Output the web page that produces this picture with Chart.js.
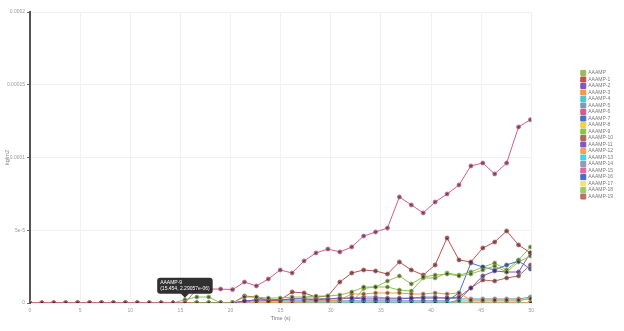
<!DOCTYPE html>
<html>
<head>
<meta charset="utf-8">
<script src="https://cdn.jsdelivr.net/npm/chart.js@4.4.1/dist/chart.umd.min.js"></script>
<style>
  html, body { margin: 0; padding: 0; background: #fff; }
</style>
</head>
<body>
<canvas id="massChart" width="624" height="331"></canvas>
<script>
// Tiempos de muestreo (s)
const timeS = [0, 1.188, 2.377, 3.566, 4.754, 5.943, 7.131, 8.32, 9.509, 10.697, 11.886, 13.074, 14.263, 15.454,
  16.64, 17.829, 19.017, 20.206, 21.394, 22.583, 23.771, 24.96, 26.149, 27.337, 28.526, 29.714, 30.903, 32.091,
  33.28, 34.469, 35.657, 36.846, 38.034, 39.223, 40.411, 41.6, 42.789, 43.977, 45.166, 46.354, 47.543, 48.731, 49.92];

const seriesNames = ['AAAMP', 'AAAMP-1', 'AAAMP-2', 'AAAMP-3', 'AAAMP-4', 'AAAMP-5', 'AAAMP-6', 'AAAMP-7',
  'AAAMP-8', 'AAAMP-9', 'AAAMP-10', 'AAAMP-11', 'AAAMP-12', 'AAAMP-13', 'AAAMP-14', 'AAAMP-15', 'AAAMP-16',
  'AAAMP-17', 'AAAMP-18', 'AAAMP-19'];

// Valores en kg/m2
const amp0 = [0, 0, 0, 0, 0, 0, 0, 0, 0, 0, 0, 0, 0, 0, 0, 0, 0, 0,
  4.1e-6, 4.1e-6, 3.4e-6, 3.4e-6, 4.1e-6, 4.1e-6, 4.8e-6, 4.8e-6, 5.5e-6, 7.6e-6, 1.1e-5, 1.1e-5, 1.51e-5,
  1.86e-5, 1.31e-5, 1.79e-5, 1.92e-5, 1.99e-5, 1.86e-5, 1.99e-5, 2.27e-5, 2.54e-5, 2.13e-5, 2.82e-5, 3.23e-5];
const amp1 = [0, 0, 0, 0, 0, 0, 0, 0, 0, 0, 0, 0, 0, 0, 0, 0, 0, 0,
  4.8e-6, 4.1e-6, 1.4e-6, 2.1e-6, 7.6e-6, 6.9e-6, 4.1e-6, 4.8e-6, 1.44e-5, 2.06e-5, 2.27e-5, 2.2e-5, 1.99e-5,
  2.82e-5, 2.27e-5, 1.92e-5, 2.61e-5, 4.47e-5, 2.96e-5, 2.82e-5, 3.78e-5, 4.19e-5, 4.95e-5, 3.99e-5, 3.44e-5];
const amp2 = [0, 0, 0, 0, 0, 0, 0, 0, 0, 0, 0, 0, 0, 0, 0, 0, 0, 0,
  1.4e-6, 2.1e-6, 2.1e-6, 2.1e-6, 2.8e-6, 2.8e-6, 2.1e-6, 2.8e-6, 3.4e-6, 3.4e-6, 2.8e-6, 2.8e-6, 2.8e-6,
  2.8e-6, 3.4e-6, 3.4e-6, 3.4e-6, 3.4e-6, 4.1e-6, 1.03e-5, 1.86e-5, 2.2e-5, 2.13e-5, 2.13e-5, 3.44e-5];
const amp3 = [0, 0, 0, 0, 0, 0, 0, 0, 0, 0, 0, 0, 0, 0, 0, 0, 0, 0, 0, 0, 0, 0, 0,
  1.4e-6, 1.4e-6, 1.4e-6, 2.1e-6, 6.2e-6, 6.2e-6, 6.9e-6, 6.9e-6, 6.9e-6, 6.2e-6, 6.2e-6, 6.9e-6, 6.2e-6,
  6.9e-6, 2.1e-6, 2.1e-6, 2.1e-6, 2.1e-6, 2.1e-6, 2.8e-6];
const amp4 = [0, 0, 0, 0, 0, 0, 0, 0, 0, 0, 0, 0, 0, 0, 0, 0, 0, 0, 0, 0, 0, 0, 0, 0, 0, 0, 0, 0, 0, 0, 0, 0,
  0, 0, 0, 0, 1.4e-6, 1.4e-6, 1.4e-6, 1.4e-6, 1.4e-6, 1.4e-6, 3.4e-6];
const amp5 = [0, 0, 0, 0, 0, 0, 0, 0, 0, 0, 0, 0, 0, 0, 0, 0, 0, 0, 0,
  2.8e-6, 2.8e-6, 2.1e-6, 2.8e-6, 3.4e-6, 3.4e-6, 2.8e-6, 2.8e-6, 3.4e-6, 4.1e-6, 4.1e-6, 3.4e-6, 3.4e-6,
  3.4e-6, 4.1e-6, 4.1e-6, 3.4e-6, 2.8e-6, 2.8e-6, 2.8e-6, 2.8e-6, 2.8e-6, 2.8e-6, 4.1e-6];
const amp6 = [0, 0, 0, 0, 0, 0, 0, 0, 0, 0, 0, 0, 0, 0,
  9.6e-6, 9.6e-6, 9.6e-6, 9.2e-6, 1.44e-5, 1.17e-5, 1.65e-5, 2.27e-5, 2.06e-5, 2.89e-5, 3.44e-5, 3.71e-5,
  3.51e-5, 3.85e-5, 4.6e-5, 4.88e-5, 5.15e-5, 7.29e-5, 6.74e-5, 6.19e-5, 6.94e-5, 7.49e-5, 8.11e-5, 9.42e-5,
  9.62e-5, 8.87e-5, 9.62e-5, 1.21e-4, 1.26e-4];
const amp7 = [0, 0, 0, 0, 0, 0, 0, 0, 0, 0, 0, 0, 0, 0, 0, 0, 0, 0,
  1.4e-6, 1.4e-6, 1.4e-6, 1.4e-6, 1.4e-6, 1.4e-6, 1.4e-6, 1.4e-6, 1.4e-6, 1.4e-6, 1.4e-6, 1.4e-6, 1.4e-6,
  1.4e-6, 1.4e-6, 1.4e-6, 1.4e-6, 1.4e-6, 6.9e-6, 2.75e-5, 2.47e-5, 2.27e-5, 2.61e-5, 2.89e-5, 2.34e-5];
const amp9 = [0, 0, 0, 0, 0, 0, 0, 0, 0, 0, 0, 0, 0, 2.29057e-6, 4.1e-6, 4.1e-6,
  0, 0, 0, 0, 0, 0, 0, 0, 0, 0, 0, 0,
  1.0e-5, 1.1e-5, 1.1e-5, 8.9e-6, 8.2e-6, 1.72e-5, 1.72e-5, 2.06e-5, 1.92e-5, 2.13e-5, 2.47e-5, 2.75e-5,
  2.27e-5, 2.96e-5, 3.85e-5];
const amp10 = [0, 0, 0, 0, 0, 0, 0, 0, 0, 0, 0, 0, 0, 0, 0, 0, 0, 0, 0, 0, 0, 0, 0, 0, 0, 0, 0, 0, 0, 0, 0, 0,
  0, 0, 0, 0, 2.1e-6, 1.03e-5, 1.58e-5, 1.51e-5, 1.72e-5, 1.86e-5, 2.61e-5];
// Series que se quedan en cero todo el ensayo
const ampZero = [0, 0, 0, 0, 0, 0, 0, 0, 0, 0, 0, 0, 0, 0, 0, 0, 0, 0, 0, 0, 0, 0, 0, 0, 0, 0, 0, 0, 0, 0, 0, 0,
  0, 0, 0, 0, 0, 0, 0, 0, 0, 0, 0];

const seriesValues = [amp0, amp1, amp2, amp3, amp4, amp5, amp6, amp7, ampZero, amp9, amp10,
  ampZero, ampZero, ampZero, ampZero, ampZero, ampZero, ampZero, ampZero, ampZero];

const yTicks = [0, 5e-5, 1e-4, 1.5e-4, 2e-4];

const seriesColors = ['#9bbb59', '#c0504d', '#7e57c2', '#f79646', '#4bc7d3', '#8497b0', '#d65a8e', '#4472c4',
  '#f4d03f', '#8bc34a', '#b5655d', '#7e57c2', '#f5a25d', '#4dd0e1', '#8d9db6', '#e066a6', '#3f6fd1',
  '#f7e07a', '#9ccc65', '#bc6f66'];

// Formato tipo %g para los valores del tooltip
function fmtG(v) {
  if (v === 0) return '0';
  const exp = Math.floor(Math.log10(Math.abs(v)));
  if (exp < -4) {
    let mant = (v / Math.pow(10, exp)).toPrecision(6).replace(/\.?0+$/, '');
    const e = Math.abs(exp);
    return mant + 'e-' + (e < 10 ? '0' + e : e);
  }
  return String(Number(v.toPrecision(6)));
}

function fmtTick(v) {
  if (v === 0) return '0';
  const clean = Number(v.toPrecision(10));
  if (clean < 1e-4) return clean.toExponential();
  return String(clean);
}

Chart.defaults.font.family = "'Liberation Sans', Arial, sans-serif";
Chart.defaults.color = '#999';

const datasets = seriesNames.map((name, i) => ({
  label: name,
  data: timeS.map((t, k) => ({ x: t, y: seriesValues[i][k] })),
  borderColor: seriesColors[i],
  backgroundColor: seriesColors[i],
  borderWidth: 1,
  pointRadius: 2,
  pointHoverRadius: 2,
  pointBorderWidth: 0.8,
  pointBackgroundColor: 'rgba(30,30,30,0.65)',
  pointBorderColor: seriesColors[i],
  tension: 0,
  order: i === 6 ? -1 : 0
}));

const ctx = document.getElementById('massChart').getContext('2d');
const massChart = new Chart(ctx, {
  type: 'line',
  data: { datasets: datasets },
  options: {
    responsive: false,
    animation: false,
    events: [],
    layout: { padding: { top: 12, right: 1, bottom: 0, left: 0 } },
    scales: {
      x: {
        type: 'linear',
        min: 0,
        max: 50,
        afterFit: (s) => { s.height = 28; },
        ticks: { stepSize: 5, font: { size: 5 }, color: '#999', padding: 2, maxRotation: 0 },
        grid: { color: '#f1f1f1', lineWidth: 1, tickLength: 3 },
        border: { color: '#eee' },
        title: { display: true, text: 'Time (s)', font: { size: 5.5 }, color: '#777', padding: { top: 0, bottom: 9 } }
      },
      y: {
        min: 0,
        max: 2e-4,
        afterFit: (s) => { s.width = 30; },
        afterBuildTicks: (s) => { s.ticks = yTicks.map(v => ({ value: v })); },
        ticks: { font: { size: 5 }, color: '#999', padding: 2, callback: (v) => fmtTick(v) },
        grid: { color: '#f1f1f1', lineWidth: 1, tickLength: 3, tickColor: '#666' },
        border: { color: '#555', width: 2 },
        title: { display: true, text: 'kg/m2', font: { size: 5.5 }, color: '#888', padding: { top: 4, bottom: 0 } }
      },
      // hueco entre el área de datos y la leyenda
      gap: {
        position: 'right',
        display: true,
        afterFit: (s) => { s.width = 48; },
        grid: { display: false },
        border: { display: false },
        ticks: { display: false }
      }
    },
    plugins: {
      legend: {
        position: 'right',
        align: 'start',
        title: { display: true, text: ' ', font: { size: 5 }, padding: { top: 51, bottom: 0 } },
        labels: {
          boxWidth: 5,
          boxHeight: 5,
          padding: 1.5,
          font: { size: 5 },
          color: '#777',
          sort: (a, b) => a.datasetIndex - b.datasetIndex
        }
      },
      tooltip: {
        backgroundColor: 'rgba(25,25,25,0.9)',
        cornerRadius: 3,
        caretSize: 4,
        caretPadding: 2,
        padding: { top: 2, bottom: 2, left: 3, right: 3 },
        titleFont: { size: 5, weight: 'normal' },
        bodyFont: { size: 5 },
        titleMarginBottom: 0,
        displayColors: false,
        xAlign: 'center',
        yAlign: 'bottom',
        callbacks: {
          title: (items) => items[0].dataset.label,
          label: (item) => '(' + fmtG(item.parsed.x) + ', ' + fmtG(item.parsed.y) + ')'
        }
      }
    }
  }
});

// Punto marcado en el tooltip
massChart.tooltip.setActiveElements([{ datasetIndex: 9, index: 13 }], { x: 0, y: 0 });
massChart.update();
</script>
</body>
</html>
